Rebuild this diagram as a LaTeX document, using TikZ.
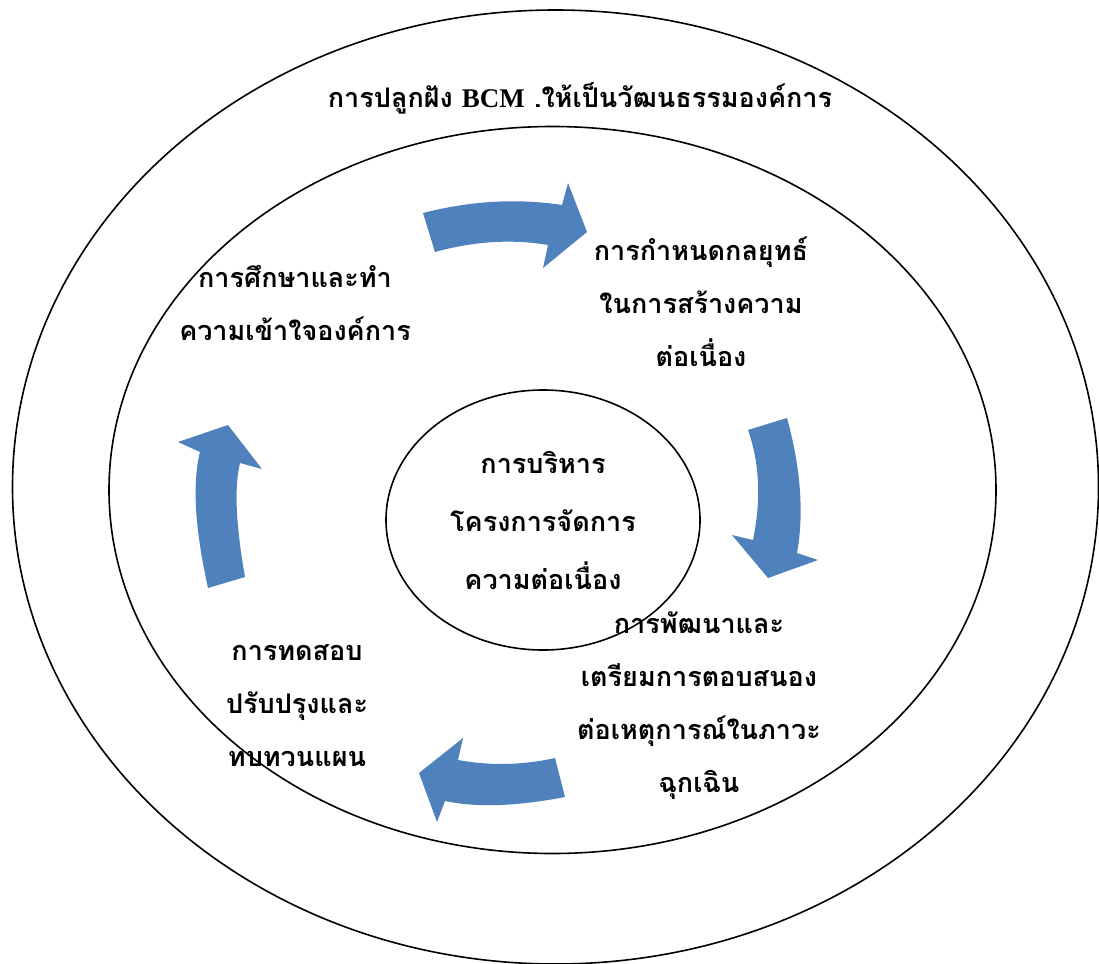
\documentclass[tikz,border=0pt]{standalone}
\usepackage{fontspec}
\usetikzlibrary{shapes.geometric}
\newfontfamily\thaifont[Script=Thai]{Loma}
\newfontfamily\latinserif{Liberation Serif}
\definecolor{cycleblue}{RGB}{79,129,189}
\tikzset{
  ring/.style={ellipse, draw=black, line width=1.6pt, inner sep=0pt},
  label/.style={align=center, inner sep=0pt, text=black,
    font=\thaifont\bfseries\fontsize{27}{53}\selectfont},
  corelabel/.style={label, font=\thaifont\bfseries\fontsize{27}{58}\selectfont},
  blockarrow/.style={fill=cycleblue, draw=none}
}
\begin{document}
\begin{tikzpicture}[x=1pt, y=-1pt]
  \useasboundingbox (0,0) rectangle (1099,963);

  % three nested rings
  \node[ring, minimum width=1086pt, minimum height=954pt] (outer) at (555.5,487) {};
  \node[ring, minimum width=887pt, minimum height=727pt] (middle) at (552.5,490) {};
  \node[ring, minimum width=314pt, minimum height=260pt] (core) at (543,520) {};

  % headline in the outer band
  \node[label] (culture) at (580,98) {การปลูกฝัง {\latinserif\bfseries BCM} .ให้เป็นวัฒนธรรมองค์การ};

  % the four stages
  \node[label] (study) at (295,303) {การศึกษาและทำ\\ความเข้าใจองค์การ};
  \node[label] (strategy) at (701,302) {การกำหนดกลยุทธ์\\ในการสร้างความ\\ต่อเนื่อง};
  \node[label] (develop) at (699,706) {การพัฒนาและ\\เตรียมการตอบสนอง\\ต่อเหตุการณ์ในภาวะ\\ฉุกเฉิน};
  \node[label] (test) at (297,706) {การทดสอบ\\ปรับปรุงและ\\ทบทวนแผน};

  % programme management at the centre
  \node[corelabel] (manage) at (core.center) {การบริหาร\\โครงการจัดการ\\ความต่อเนื่อง};

  % curved block arrows running clockwise
  \fill[blockarrow] (423,213) .. controls (470,201) and (516,198) .. (562,205)
    -- (568,183) -- (587,232) -- (543,268) -- (548,245)
    .. controls (512,239) and (475,241) .. (435,252) -- cycle;
  \fill[blockarrow] (748,430) -- (787,418)
    .. controls (801,469) and (804,514) .. (797,553)
    -- (818,560) -- (768,578) -- (732,535) -- (753,540)
    .. controls (761,501) and (760,464) .. (748,430) -- cycle;
  \fill[blockarrow] (555,758) -- (565,797)
    .. controls (518,806) and (478,808) .. (445,801)
    -- (437,822) -- (419,773) -- (463,738) -- (458,760)
    .. controls (491,766) and (523,765) .. (555,758) -- cycle;
  \fill[blockarrow] (245,577) -- (208,588)
    .. controls (195,529) and (192,484) .. (200,452)
    -- (178,442) -- (228,425) -- (262,469) -- (240,463)
    .. controls (234,488) and (236,526) .. (245,577) -- cycle;
\end{tikzpicture}
\end{document}
